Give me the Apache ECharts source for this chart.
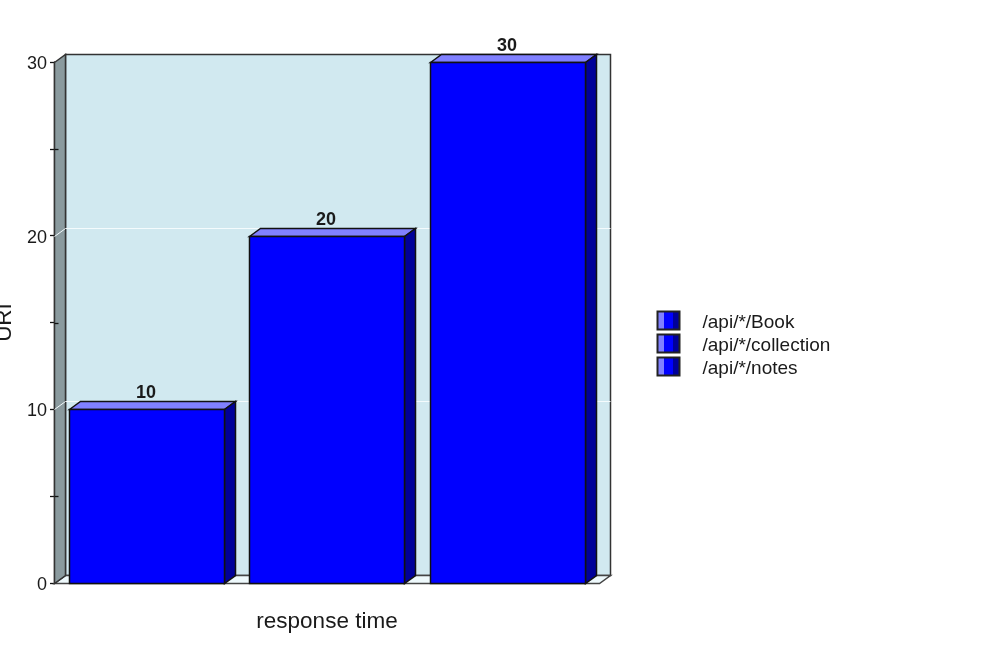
<!DOCTYPE html>
<html><head><meta charset="utf-8">
<style>html,body{margin:0;padding:0;background:#fff}#c{width:999px;height:649px}</style>
<script src="https://cdn.jsdelivr.net/npm/echarts@6/dist/echarts.min.js"></script>
</head><body><div id="c"></div>
<script>
const categories = ['/api/*/Book', '/api/*/collection', '/api/*/notes'];
const values = [10, 20, 30];
const gridValues = [10, 20];
const minorValues = [5, 15, 25];
const xName = 'response time';
const yName = 'URI';

const DX = 11, DY = 8, FONT = '"Liberation Sans", Arial, sans-serif';
const INK = '#1a1a1a';
const chart = echarts.init(document.getElementById('c'), null, {renderer: 'canvas'});

function wallRender(params, api) {
  const cs = params.coordSys;
  const xl = 54.5, xr = cs.x + cs.width + 1.5, yb = Math.round(api.coord([0, 0])[1]) + 0.5, yt = Math.round(api.coord([0, 30])[1]) + 0.5;
  const line = {stroke: '#111', lineWidth: 1.3};
  const kids = [
    {type: 'polygon', shape: {points: [[xl + DX, yt - DY], [xr + DX, yt - DY], [xr + DX, yb - DY], [xl + DX, yb - DY]]},
      style: {fill: '#d1e9f0', stroke: '#333', lineWidth: 1.5}},
    {type: 'polygon', shape: {points: [[xl, yb], [xl + DX, yb - DY], [xr + DX, yb - DY], [xr, yb]]},
      style: {fill: '#eef9fc', stroke: '#444', lineWidth: 1.5}},
    {type: 'polygon', shape: {points: [[xl, yt], [xl + DX, yt - DY], [xl + DX, yb - DY], [xl, yb]]},
      style: {fill: '#8a9a9e', stroke: '#333', lineWidth: 1.5}}
  ];
  gridValues.forEach(v => {
    const y = Math.round(api.coord([0, v])[1]) + 0.5;
    kids.push({type: 'polyline', shape: {points: [[xl, y], [xl + DX, y - DY], [xr + DX, y - DY]]},
      style: {fill: 'none', stroke: '#f4fbfd', lineWidth: 1}});
  });
  minorValues.forEach(v => {
    const y = Math.round(api.coord([0, v])[1]) + 0.5;
    kids.push({type: 'line', shape: {x1: xl, y1: y, x2: xl + 4, y2: y}, style: line});
  });
  return {type: 'group', children: kids};
}

function barRender(params, api) {
  const x = api.value(0), v = api.value(1);
  const c = api.coord([x, v]), b = api.coord([x, 0]);
  const w = api.size([1, 0])[0] * 0.86;
  const l = Math.round(c[0] - w / 2) + 0.5, r = l + Math.round(w), t = Math.round(c[1]) + 0.5, bt = Math.round(b[1]) + 0.5;
  const ln = {stroke: '#111', lineWidth: 1.5};
  return {type: 'group', children: [
    {type: 'polygon', shape: {points: [[l, t], [l + DX, t - DY], [r + DX, t - DY], [r, t]]}, style: Object.assign({fill: '#8080ff'}, ln)},
    {type: 'polygon', shape: {points: [[r, t], [r + DX, t - DY], [r + DX, bt - DY], [r, bt]]}, style: Object.assign({fill: '#000099'}, ln)},
    {type: 'rect', shape: {x: l, y: t, width: r - l, height: bt - t}, style: Object.assign({fill: '#0000ff'}, ln)},
    {type: 'text', x: (l + r) / 2 - 1, y: t - DY + 1,
      style: {text: String(v), fill: INK, font: 'bold 18px ' + FONT, align: 'center', verticalAlign: 'bottom'}}
  ]};
}

const swatch = new echarts.graphic.LinearGradient(0, 0, 1, 0, [
  {offset: 0, color: '#8080ff'}, {offset: 0.31, color: '#8080ff'},
  {offset: 0.31, color: '#0000ff'}, {offset: 0.68, color: '#0000ff'},
  {offset: 0.68, color: '#000099'}, {offset: 1, color: '#000099'}
]);

chart.setOption({
  animation: false,
  backgroundColor: '#fff',
  textStyle: {fontFamily: FONT},
  grid: {left: 56, right: 401, top: 62, bottom: 66, outerBoundsMode: 'none'},
  legend: {
    left: 656.5, top: 309, padding: 0, orient: 'vertical', itemWidth: 22, itemHeight: 18, itemGap: 0, icon: 'rect',
    formatter: '{t|{name}}',
    textStyle: {color: INK, fontFamily: FONT, rich: {t: {fontSize: 19, lineHeight: 12, color: INK, fontFamily: FONT, padding: [4, 0, 0, 18]}}},
    data: categories.map(n => ({name: n, itemStyle: {color: swatch, borderColor: '#222', borderWidth: 2}})),
    selectedMode: false
  },
  xAxis: {
    type: 'category', data: categories, name: xName, nameLocation: 'middle', nameGap: 27,
    nameTextStyle: {fontSize: 22.5, color: INK, fontFamily: FONT},
    axisLabel: {show: false}, axisTick: {show: false},
    axisLine: {show: false}, splitLine: {show: false}
  },
  yAxis: {
    type: 'value', min: 0, max: 30, interval: 10, offset: 2,
    name: yName, nameLocation: 'middle', nameGap: 38, nameRotate: 90,
    nameTextStyle: {fontSize: 22.5, color: INK, fontFamily: FONT},
    axisLine: {show: true, lineStyle: {color: '#111', width: 1.3}},
    axisTick: {show: true, length: 4, lineStyle: {color: '#111', width: 1.3}},
    minorTick: {show: true, splitNumber: 2, length: 4, lineStyle: {color: '#111', width: 1.3}},
    axisLabel: {fontSize: 18, color: INK, margin: 7, fontFamily: FONT, verticalAlign: 'top', lineHeight: 4},
    splitLine: {show: false}
  },
  series: [
    {type: 'custom', name: 'walls', silent: true, clip: false, z: 1, renderItem: wallRender, data: [[0, 0]], tooltip: {show: false}}
  ].concat(categories.map((n, i) => ({
    type: 'custom', name: n, clip: false, z: 3, renderItem: barRender,
    encode: {x: 0, y: 1}, data: [[i, values[i]]], itemStyle: {color: '#0000ff'}
  })))
});
</script></body></html>
